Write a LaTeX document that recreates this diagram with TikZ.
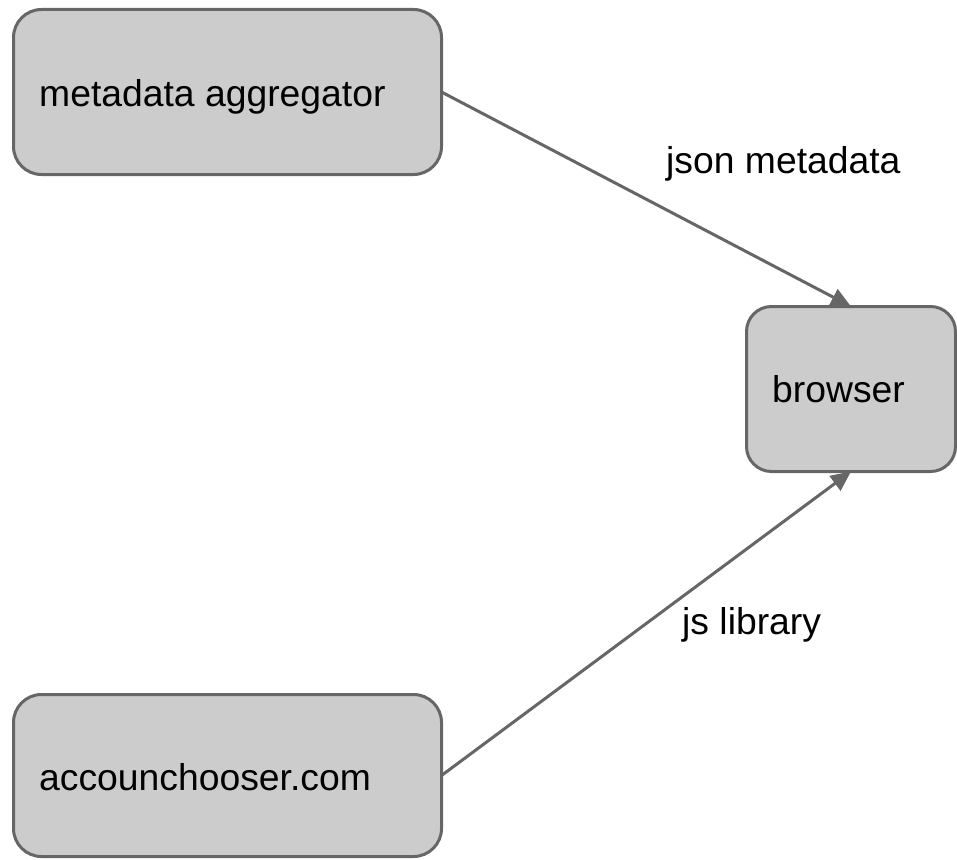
\documentclass[tikz,border=0pt]{standalone}
\usepackage{fontspec}
\setmainfont{Liberation Sans}
\usetikzlibrary{arrows.meta}
\definecolor{boxfill}{HTML}{CCCCCC}
\definecolor{edge}{HTML}{666666}
\begin{document}
\begin{tikzpicture}[x=1pt,y=-1pt,
  box/.style={draw=edge, fill=boxfill, line width=3pt, rectangle, inner sep=0pt, outer sep=0pt},
  lbl/.style={anchor=base west, inner sep=0pt, font=\fontsize{37.3}{45}\selectfont, text=black},
  arr/.style={draw=edge, line width=3pt, -{Triangle[length=20pt,width=18pt]}}]
\useasboundingbox (0,0) rectangle (957,859);
\node[box, minimum width=428pt, minimum height=165pt, rounded corners=28pt] (agg) at (227.5,92) {};
\node[box, minimum width=209pt, minimum height=165pt, rounded corners=25pt] (br) at (851,389) {};
\node[box, minimum width=428pt, minimum height=162pt, rounded corners=28pt] (acc) at (227.5,775.5) {};
\node[lbl] (aggt) at (39,106) {metadata aggregator};
\node[lbl] (brt) at (772,402) {browser};
\node[lbl] (acct) at (39,790) {accounchooser.com};
\draw[arr] (agg.east) -- (br.north);
\draw[arr] (acc.east) -- (br.south);
\node[lbl] (json) at (666,173) {json metadata};
\node[lbl] (js) at (682,634) {js library};
\end{tikzpicture}
\end{document}
